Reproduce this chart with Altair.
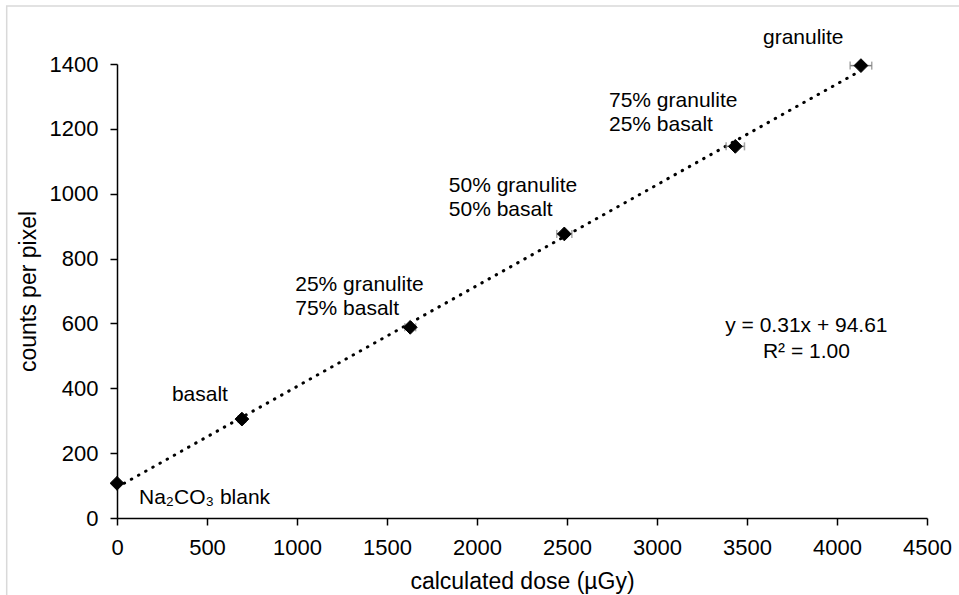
import altair as alt
import pandas as pd

# ---- data ----
samples = ["Na2CO3 blank", "basalt", "25/75", "50/50", "75/25", "granulite"]
label_text = ["Na₂CO₃ blank", "basalt", "25% granulite\n75% basalt",
              "50% granulite\n50% basalt", "75% granulite\n25% basalt", "granulite"]
dose = [0, 694, 1629, 2485, 3435, 4133]
counts = [107, 305, 588, 876, 1146, 1395]
dose_err = [0, 20, 30, 42, 51, 60]
x_ticks = [0, 500, 1000, 1500, 2000, 2500, 3000, 3500, 4000, 4500]
y_ticks = [0, 200, 400, 600, 800, 1000, 1200, 1400]
equation = "y = 0.31x + 94.61\nR² = 1.00"

df = pd.DataFrame({
    "sample": samples,
    "label": label_text,
    "dose": dose,
    "counts": counts,
    "lo": [d - e for d, e in zip(dose, dose_err)],
    "hi": [d + e for d, e in zip(dose, dose_err)],
})

FONT = "Liberation Sans"
W, H = 810, 454

xs = alt.Scale(domain=[0, 4500], nice=False, zero=False)
ys = alt.Scale(domain=[0, 1400], nice=False, zero=False)

x_axis = alt.Axis(values=x_ticks, format="d", grid=False, title="calculated dose (µGy)",
                  labelFontSize=22, titleFontSize=23, labelPadding=12, labelFlush=False,
                  titleY=70, titleBaseline="alphabetic", titleFontWeight="normal")
y_axis = alt.Axis(values=y_ticks, format="d", grid=False, title="counts per pixel",
                  labelFontSize=22, titleFontSize=23, labelPadding=12, labelFlush=False,
                  titleX=-82, titleY=H / 2, titleAngle=270, titleAlign="center",
                  titleBaseline="alphabetic", titleFontWeight="normal")

base = alt.Chart(df)

frame = alt.Chart(pd.DataFrame({"a": [0]})).mark_rect(
    fill="transparent", stroke="#d9d9d9", strokeWidth=1.5
).encode(x=alt.value(-110.3), x2=alt.value(1000), y=alt.value(-58), y2=alt.value(700))

trend = base.transform_regression("dose", "counts").mark_line(
    color="black", strokeWidth=3, strokeDash=[0.5, 7.7], strokeCap="round"
).encode(x=alt.X("dose:Q", scale=xs, axis=x_axis),
         y=alt.Y("counts:Q", scale=ys, axis=y_axis))

err = base.mark_rule(color="#808080", strokeWidth=1.5).encode(
    x=alt.X("lo:Q", scale=xs), x2="hi:Q", y=alt.Y("counts:Q", scale=ys))
cap_lo = base.mark_tick(color="#808080", thickness=1.5, size=8, orient="vertical").encode(
    x=alt.X("lo:Q", scale=xs), y=alt.Y("counts:Q", scale=ys))
cap_hi = base.mark_tick(color="#808080", thickness=1.5, size=8, orient="vertical").encode(
    x=alt.X("hi:Q", scale=xs), y=alt.Y("counts:Q", scale=ys))

pts = base.mark_point(shape="diamond", filled=True, color="black", size=190,
                      stroke="black", strokeWidth=1, opacity=1).encode(
    x=alt.X("dose:Q", scale=xs), y=alt.Y("counts:Q", scale=ys))

# label offsets (pixels) relative to each point
offsets = {
    "Na2CO3 blank": dict(dx=22, dy=15, align="left"),
    "basalt": dict(dx=-42, dy=-24, align="center"),
    "25/75": dict(dx=-115, dy=-42, align="left"),
    "50/50": dict(dx=-115.5, dy=-47.7, align="left"),
    "75/25": dict(dx=-126.3, dy=-45.7, align="left"),
    "granulite": dict(dx=-57.7, dy=-27.6, align="center"),
}
label_layers = []
for s, o in offsets.items():
    label_layers.append(
        base.transform_filter(alt.datum.sample == s).mark_text(
            font=FONT, fontSize=21, color="black", baseline="middle",
            lineBreak="\n", lineHeight=24, **o
        ).encode(x=alt.X("dose:Q", scale=xs), y=alt.Y("counts:Q", scale=ys), text="label:N")
    )

eq = alt.Chart(pd.DataFrame({"t": [equation]})).mark_text(
    font=FONT, fontSize=21, color="black", align="center", baseline="middle",
    lineBreak="\n", lineHeight=26
).encode(x=alt.datum(3830, scale=xs), y=alt.datum(591, scale=ys), text="t:N")

chart = alt.layer(frame, trend, err, cap_lo, cap_hi, pts, *label_layers, eq).properties(
    width=W, height=H,
    autosize=alt.AutoSizeParams(type="none"),
    padding={"left": 117, "top": 64, "right": 32, "bottom": 77},
    background="white",
).configure_view(stroke="transparent").configure_axis(
    domainColor="black", domainWidth=1.5, tickColor="black", tickWidth=1.5, tickSize=7,
    labelColor="black", titleColor="black", labelFont=FONT, titleFont=FONT,
)

chart.save("out.html", embed_options={"renderer": "svg", "actions": False})
